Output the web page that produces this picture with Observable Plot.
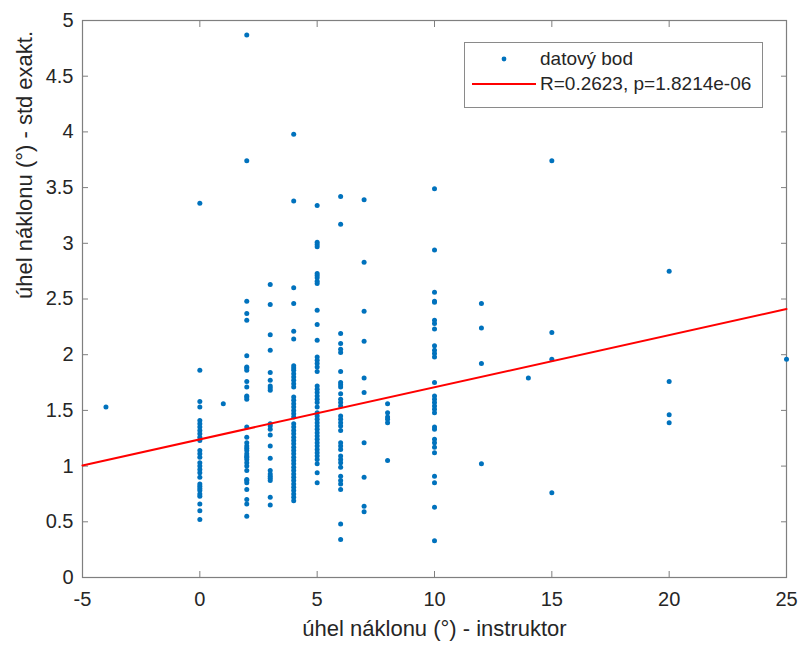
<!DOCTYPE html>
<html>
<head>
<meta charset="utf-8">
<script src="https://cdn.jsdelivr.net/npm/d3@7"></script>
<script src="https://cdn.jsdelivr.net/npm/@observablehq/plot@0.6"></script>
<style>
  body { margin: 0; background: #fff; }
  #wrap { position: relative; width: 800px; height: 646px; font-family: "Liberation Sans", Arial, sans-serif; }
  #legend { position: absolute; left: 464px; top: 42px; width: 297px; height: 64px; border: 1px solid #8a8a8a; background: #fff; color: #262626; font-size: 19px; }
  #legend .row { position: absolute; left: 0; height: 24px; width: 100%; }
  #legend svg { position: absolute; left: 0; top: 0; }
  #legend span { position: absolute; left: 75px; line-height: 24px; white-space: nowrap; }
</style>
</head>
<body>
<div id="wrap">
  <div id="chart"></div>
  <div id="legend">
    <div class="row" style="top:4px"><svg width="75" height="24"><circle cx="39" cy="12" r="2.4" fill="#0072BD"></circle></svg><span>datový bod</span></div>
    <div class="row" style="top:29px"><svg width="75" height="24"><line x1="7" x2="71" y1="12" y2="12" stroke="#FF0000" stroke-width="2"></line></svg><span>R=0.2623, p=1.8214e-06</span></div>
  </div>
</div>
<script>
// Instructor angle (x) values and the measured std values per column
const xCols = [-4, 0, 1, 2, 3, 4, 5, 6, 7, 8, 10, 12, 14, 15, 20, 25];
const ysM4 = [1.53];
const ys0 = [3.36, 1.86, 1.58, 1.53, 1.41, 1.38, 1.35, 1.32, 1.29, 1.26, 1.23, 1.14, 1.11, 1.08, 1.03, 1.00, 0.97, 0.94, 0.90, 0.84, 0.82, 0.80, 0.78, 0.75, 0.73, 0.66, 0.60, 0.52];
const ys1 = [1.56];
const ys2 = [4.87, 3.74, 2.48, 2.37, 2.31, 1.99, 1.89, 1.88, 1.86, 1.76, 1.71, 1.63, 1.62, 1.60, 1.35, 1.26, 1.21, 1.18, 1.16, 1.14, 1.11, 1.09, 1.08, 1.06, 1.03, 1.00, 0.96, 0.88, 0.87, 0.85, 0.79, 0.70, 0.66, 0.55];
const ys3 = [2.63, 2.45, 2.18, 2.04, 1.84, 1.77, 1.72, 1.70, 1.68, 1.38, 1.36, 1.33, 1.28, 1.18, 1.07, 0.96, 0.93, 0.91, 0.89, 0.87, 0.72, 0.65];
const ys4 = [3.98, 3.38, 2.60, 2.46, 2.21, 2.14, 1.90, 1.88, 1.86, 1.83, 1.80, 1.77, 1.74, 1.71, 1.62, 1.59, 1.56, 1.53, 1.50, 1.47, 1.44, 1.38, 1.35, 1.32, 1.29, 1.26, 1.23, 1.20, 1.17, 1.14, 1.11, 1.08, 1.05, 1.02, 0.99, 0.96, 0.93, 0.90, 0.87, 0.84, 0.81, 0.78, 0.75, 0.72, 0.69];
const ys5 = [3.34, 3.01, 2.99, 2.97, 2.73, 2.71, 2.69, 2.66, 2.64, 2.40, 2.27, 2.13, 1.98, 1.95, 1.92, 1.89, 1.85, 1.72, 1.69, 1.66, 1.63, 1.60, 1.57, 1.53, 1.48, 1.45, 1.42, 1.39, 1.36, 1.33, 1.30, 1.27, 1.24, 1.21, 1.18, 1.15, 1.12, 1.09, 1.06, 1.02, 0.94, 0.85];
const ys6 = [3.42, 3.17, 2.19, 2.10, 2.05, 2.02, 1.85, 1.75, 1.73, 1.71, 1.65, 1.60, 1.57, 1.54, 1.45, 1.42, 1.39, 1.36, 1.32, 1.21, 1.18, 1.15, 1.09, 1.06, 1.03, 0.99, 0.91, 0.87, 0.84, 0.79, 0.48, 0.34];
const ys7 = [3.39, 2.83, 2.39, 2.12, 1.79, 1.66, 1.21, 0.90, 0.64, 0.59];
const ys8 = [1.56, 1.48, 1.44, 1.42, 1.39, 1.05];
const ys10 = [3.49, 2.94, 2.56, 2.48, 2.47, 2.31, 2.28, 2.23, 2.08, 2.04, 2.01, 1.98, 1.75, 1.63, 1.60, 1.57, 1.54, 1.51, 1.48, 1.35, 1.33, 1.24, 1.21, 1.17, 1.12, 0.91, 0.85, 0.63, 0.33];
const ys12 = [2.46, 2.24, 1.92, 1.02];
const ys14 = [1.79];
const ys15 = [3.74, 2.20, 1.96, 0.76];
const ys20 = [2.75, 1.76, 1.46, 1.39];
const ys25 = [1.96];
const yCols = [ysM4, ys0, ys1, ys2, ys3, ys4, ys5, ys6, ys7, ys8, ys10, ys12, ys14, ys15, ys20, ys25];

// Regression line endpoints
const fitX = [-5, 25];
const fitY = [1.006, 2.41];

// Tick labels
const xTicks = [-5, 0, 5, 10, 15, 20, 25];
const yTicks = [0, 0.5, 1, 1.5, 2, 2.5, 3, 3.5, 4, 4.5, 5];
const xLabel = "úhel náklonu (°) - instruktor";
const yLabel = "úhel náklonu (°) - std exakt.";

const points = xCols.flatMap((x, i) => yCols[i].map(y => ({x, y})));
const fit = fitX.map((x, i) => ({x, y: fitY[i]}));

const axisColor = "#7f7f7f";
const textColor = "#262626";
const fmt = d => String(d);

const chart = Plot.plot({
  width: 800,
  height: 646,
  marginLeft: 82,
  marginRight: 14,
  marginTop: 20,
  marginBottom: 69,
  style: {fontFamily: "'Liberation Sans', Arial, sans-serif", color: textColor, background: "#fff"},
  x: {domain: [-5, 25]},
  y: {domain: [0, 5]},
  marks: [
    Plot.axisX(xTicks, {anchor: "bottom", tickSize: 0, tickPadding: 14, tickFormat: fmt, fontSize: 20, fill: textColor, label: null}),
    Plot.axisY(yTicks, {anchor: "left", tickSize: 0, tickPadding: 9, tickFormat: fmt, fontSize: 20, fill: textColor, label: null}),
    Plot.axisX(xTicks, {anchor: "bottom", tickSize: 6, dy: -6, text: null, label: null, stroke: axisColor}),
    Plot.axisX(xTicks, {anchor: "top", tickSize: 6, dy: 6, text: null, label: null, stroke: axisColor}),
    Plot.axisY(yTicks, {anchor: "left", tickSize: 6, dx: 6, text: null, label: null, stroke: axisColor}),
    Plot.axisY(yTicks, {anchor: "right", tickSize: 6, dx: -6, text: null, label: null, stroke: axisColor}),
    Plot.frame({stroke: axisColor, strokeWidth: 1.2}),
    Plot.dot(points, {x: "x", y: "y", r: 2.5, fill: "#0072BD", stroke: null}),
    Plot.line(fit, {x: "x", y: "y", stroke: "#FF0000", strokeWidth: 2}),
    Plot.text([xLabel], {text: d => d, frameAnchor: "bottom", dy: 58, fontSize: 22, fill: textColor}),
    Plot.text([yLabel], {text: d => d, frameAnchor: "left", rotate: -90, dx: -58, fontSize: 22, fill: textColor})
  ]
});
document.getElementById("chart").appendChild(chart);
</script>
</body>
</html>
